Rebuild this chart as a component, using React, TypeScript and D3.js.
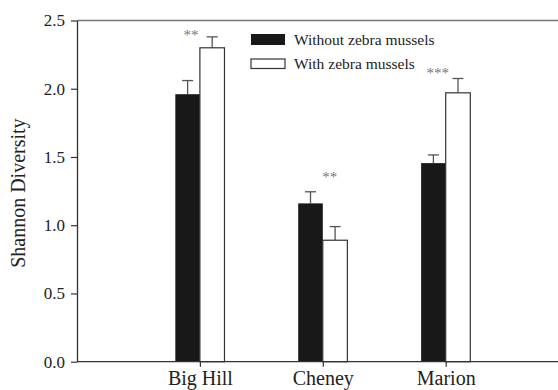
import { useEffect, useRef } from "react";
import * as d3 from "d3";

const W = 558;
const H = 390;

const sites = ["Big Hill", "Cheney", "Marion"];
const seriesNames = ["Without zebra mussels", "With zebra mussels"];
const withoutMean = [1.96, 1.16, 1.455];
const withoutErr = [0.1, 0.085, 0.06];
const withMean = [2.3, 0.89, 1.97];
const withErr = [0.08, 0.1, 0.105];
const stars = ["**", "**", "***"];
const yTicks = [0, 0.5, 1.0, 1.5, 2.0, 2.5];

// star label nudges (px) relative to the site tick / highest error cap
const STAR_DX = [-9, 7, -8];
const STAR_DY = [3, -10, -1];

const FONT = "'Liberation Serif', 'Times New Roman', serif";

const App = () => {
  const ref = useRef<SVGSVGElement | null>(null);

  useEffect(() => {
    const svg = d3.select(ref.current);
    svg.selectAll("*").remove();

    const x = d3.scaleLinear().domain([0, 4]).range([77, 568.6]);
    const y = d3.scaleLinear().domain([0, 2.5]).range([361.7, 20.5]);
    const bw = x(0.2) - x(0);

    // top frame line
    svg.append("line")
      .attr("x1", 77).attr("x2", W)
      .attr("y1", y(2.5)).attr("y2", y(2.5))
      .attr("stroke", "#777").attr("stroke-width", 1.6);

    // bars
    const g = svg.append("g");
    sites.forEach((s, i) => {
      const cx = x(i + 1);
      const bars = [
        { m: withoutMean[i], e: withoutErr[i], x0: cx - bw, fill: "#181818" },
        { m: withMean[i], e: withErr[i], x0: cx, fill: "#fff" },
      ];
      bars.forEach((b) => {
        const mid = b.x0 + bw / 2;
        g.append("line")
          .attr("x1", mid).attr("x2", mid)
          .attr("y1", y(b.m)).attr("y2", y(b.m + b.e))
          .attr("stroke", "#555").attr("stroke-width", 1.3);
        g.append("line")
          .attr("x1", mid - 5.5).attr("x2", mid + 5.5)
          .attr("y1", y(b.m + b.e)).attr("y2", y(b.m + b.e))
          .attr("stroke", "#555").attr("stroke-width", 1.3);
        g.append("rect")
          .attr("x", b.x0).attr("y", y(b.m))
          .attr("width", bw).attr("height", y(0) - y(b.m))
          .attr("fill", b.fill)
          .attr("stroke", b.fill === "#fff" ? "#333" : "none")
          .attr("stroke-width", 1.2);
      });
      const top = Math.max(withMean[i] + withErr[i], withoutMean[i] + withoutErr[i]);
      svg.append("text")
        .attr("x", cx + STAR_DX[i]).attr("y", y(top) + STAR_DY[i])
        .attr("text-anchor", "middle")
        .attr("font-family", FONT).attr("font-size", 15)
        .attr("fill", "#777")
        .text(stars[i]);
    });

    // y axis
    const ya = svg.append("g").attr("transform", "translate(77,0)")
      .attr("font-family", FONT)
      .call(d3.axisLeft(y).tickValues(yTicks).tickFormat(d3.format(".1f")).tickSize(6).tickSizeOuter(0));
    ya.attr("font-family", FONT);
    ya.select(".domain").attr("stroke", "#333").attr("stroke-width", 1.3);
    ya.selectAll(".tick line").attr("stroke", "#333").attr("stroke-width", 1.2);
    ya.selectAll(".tick text")
      .attr("font-family", FONT).attr("font-size", 17).attr("fill", "#222").attr("x", -12);

    // x axis
    const xa = svg.append("g").attr("transform", `translate(0,${y(0)})`)
      .call(d3.axisBottom(x).tickValues([1, 2, 3]).tickFormat((d) => sites[(d as number) - 1]).tickSize(5).tickSizeOuter(0));
    xa.attr("font-family", FONT);
    xa.select(".domain").attr("stroke", "#333").attr("stroke-width", 1.3).attr("d", `M77,0H${W}`);
    xa.selectAll(".tick line").attr("stroke", "#333").attr("stroke-width", 1.2);
    xa.selectAll(".tick text")
      .attr("font-family", FONT).attr("font-size", 20).attr("fill", "#222").attr("y", 9);

    // y label
    svg.append("text")
      .attr("transform", `translate(25,${y(1.25) + 2}) rotate(-90)`)
      .attr("text-anchor", "middle")
      .attr("font-family", FONT).attr("font-size", 20).attr("fill", "#222")
      .text("Shannon Diversity");

    // legend
    const lg = svg.append("g");
    seriesNames.forEach((n, i) => {
      lg.append("rect")
        .attr("x", 251).attr("y", i === 0 ? 34 : 59)
        .attr("width", 34).attr("height", i === 0 ? 11 : 9.5)
        .attr("fill", i === 0 ? "#181818" : "#fff")
        .attr("stroke", i === 0 ? "none" : "#333").attr("stroke-width", 1.2);
      lg.append("text")
        .attr("x", 294).attr("y", i === 0 ? 45 : 68.5)
        .attr("font-family", FONT).attr("font-size", 15.5).attr("fill", "#222")
        .text(n);
    });
  }, []);

  return (
    <div style={{ position: "absolute", left: 0, top: 0 }}>
      <svg ref={ref} width={W} height={H} style={{ display: "block", background: "#fff" }} />
    </div>
  );
};

export default App;
